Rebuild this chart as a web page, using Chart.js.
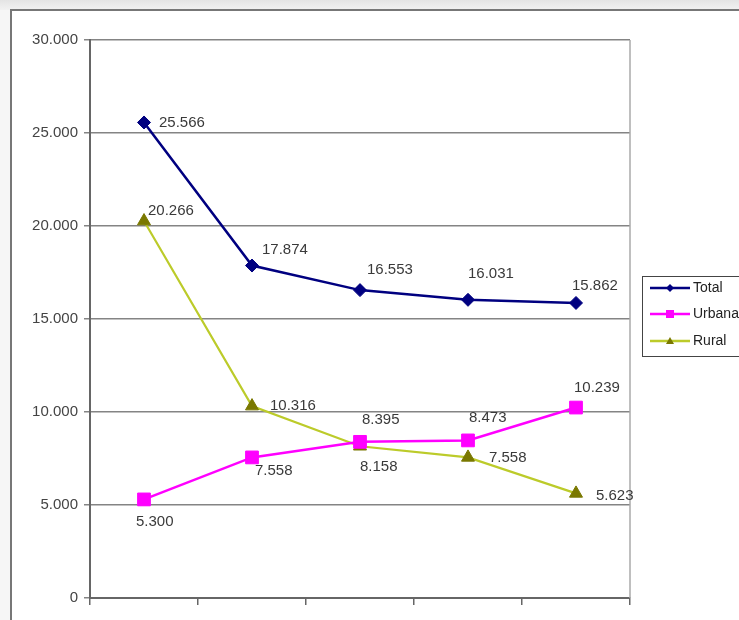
<!DOCTYPE html>
<html>
<head>
<meta charset="utf-8">
<script src="https://cdn.jsdelivr.net/npm/chart.js@4/dist/chart.umd.min.js"></script>
<style>
  html, body { margin: 0; overflow: hidden; background: #f4f4f4; }
  #chart { display: block; }
</style>
</head>
<body>
<canvas id="chart" width="739" height="620"></canvas>
<script>
// periods (no labels shown on the axis)
var categories = ['1', '2', '3', '4', '5'];
var total  = [25566, 17874, 16553, 16031, 15862];
var urbana = [5300, 7558, 8395, 8473, 10239];
var rural  = [20266, 10316, 8158, 7558, 5623];
var yTicks = [0, 5000, 10000, 15000, 20000, 25000, 30000];

function fmt(n) {
    return String(n).replace(/\B(?=(\d{3})+(?!\d))/g, '.');
}

// where each value label sits relative to its point [dx, dy]
var labelOffsets = [
    [[15, 0], [10, -16], [7, -20], [0, -26], [-4, -17]],
    [[-8, 22], [3, 13], [2, -22], [1, -23], [-2, -20]],
    [[4, -10], [18, 0], [0, 21], [21, 0], [20, 2]]
];

var extras = {
    id: 'extras',
    beforeDraw: function (chart) {
        // page shade + sheet frame (top and left edges only)
        var c = chart.ctx, w = chart.width, h = chart.height;
        c.save();
        var g = c.createLinearGradient(0, 0, 0, 10);
        g.addColorStop(0, '#e4e4e4');
        g.addColorStop(1, '#f2f2f2');
        c.fillStyle = g;
        c.fillRect(0, 0, w, 10);
        c.fillStyle = '#f6f6f6';
        c.fillRect(0, 10, 10, h);
        c.fillStyle = '#fff';
        c.fillRect(11, 10, w, h);
        c.strokeStyle = '#777';
        c.lineWidth = 2;
        c.beginPath();
        c.moveTo(11, h);
        c.lineTo(11, 10);
        c.lineTo(w, 10);
        c.stroke();
        c.restore();
    },
    beforeDatasetsDraw: function (chart) {
        var a = chart.chartArea, c = chart.ctx;
        c.save();
        c.strokeStyle = '#aaa';
        c.lineWidth = 1.5;
        c.beginPath();
        c.moveTo(a.right, a.top);
        c.lineTo(a.right, a.bottom);
        c.stroke();
        c.restore();
    },
    afterDatasetsDraw: function (chart) {
        var c = chart.ctx;
        c.save();
        c.font = '15px "Liberation Sans", Arial, sans-serif';
        c.fillStyle = '#3a3a3a';
        c.textAlign = 'left';
        c.textBaseline = 'middle';
        chart.data.datasets.forEach(function (ds, di) {
            chart.getDatasetMeta(di).data.forEach(function (pt, i) {
                var off = labelOffsets[di][i];
                c.fillText(fmt(ds.data[i]), pt.x + off[0], pt.y + off[1]);
            });
        });
        c.restore();
    },
    afterDraw: function (chart) {
        var c = chart.ctx, a = chart.chartArea;
        var bx = a.right + 12, by = 276;
        c.save();
        c.strokeStyle = '#444';
        c.lineWidth = 1;
        c.strokeRect(bx + 0.5, by + 0.5, 130, 80);
        c.font = '14px "Liberation Sans", Arial, sans-serif';
        c.textBaseline = 'middle';
        var rows = [12, 38, 65];
        chart.data.datasets.forEach(function (ds, di) {
            var y = by + rows[di];
            var x0 = bx + 8, x1 = bx + 48, mx = bx + 28;
            c.strokeStyle = ds.borderColor;
            c.lineWidth = 2.5;
            c.beginPath();
            c.moveTo(x0, y);
            c.lineTo(x1, y);
            c.stroke();
            c.fillStyle = ds.pointBackgroundColor;
            c.beginPath();
            if (ds.pointStyle === 'rectRot') {
                c.moveTo(mx - 4, y); c.lineTo(mx, y - 4); c.lineTo(mx + 4, y); c.lineTo(mx, y + 4);
            } else if (ds.pointStyle === 'rect') {
                c.rect(mx - 4, y - 4, 8, 8);
            } else {
                c.moveTo(mx - 4, y + 3); c.lineTo(mx, y - 4); c.lineTo(mx + 4, y + 3);
            }
            c.closePath();
            c.fill();
            c.fillStyle = '#222';
            c.fillText(ds.label, x1 + 3, y);
        });
        c.restore();
    }
};

new Chart(document.getElementById('chart'), {
    type: 'line',
    data: {
        labels: categories,
        datasets: [
            {
                label: 'Total',
                data: total,
                borderColor: '#000080',
                borderWidth: 2.5,
                pointStyle: 'rectRot',
                pointRadius: 6.5,
                pointBackgroundColor: '#000080',
                pointBorderColor: '#000080',
                pointBorderWidth: 1
            },
            {
                label: 'Urbana',
                data: urbana,
                borderColor: '#ff00ff',
                borderWidth: 2.5,
                pointStyle: 'rect',
                pointRadius: 9,
                pointBackgroundColor: '#ff00ff',
                pointBorderColor: '#ff00ff',
                pointBorderWidth: 1
            },
            {
                label: 'Rural',
                data: rural,
                borderColor: '#bccb2a',
                borderWidth: 2.2,
                pointStyle: 'triangle',
                pointRadius: 7.5,
                pointBackgroundColor: '#7a7800',
                pointBorderColor: '#7a7800',
                pointBorderWidth: 1
            }
        ]
    },
    options: {
        responsive: false,
        animation: false,
        layout: { padding: { left: 10, top: 40, right: 109, bottom: 0 } },
        plugins: {
            legend: { display: false },
            tooltip: { enabled: false }
        },
        scales: {
            x: {
                offset: true,
                ticks: { display: false },
                grid: { offset: true, drawOnChartArea: false, drawTicks: true, tickLength: 7, color: '#666', lineWidth: 1.5 },
                border: { color: '#666', width: 2 },
                afterFit: function (s) { s.height = 22; }
            },
            y: {
                min: 0,
                max: 30000,
                afterBuildTicks: function (s) {
                    s.ticks = yTicks.map(function (v) { return { value: v }; });
                },
                ticks: {
                    padding: 6,
                    color: '#444',
                    font: { family: '"Liberation Sans", Arial, sans-serif', size: 15 },
                    callback: function (v) { return fmt(v); }
                },
                grid: { color: '#848484', lineWidth: 1.5, tickLength: 6 },
                border: { color: '#666', width: 2 },
                afterFit: function (s) { s.width = 80; }
            }
        }
    },
    plugins: [extras]
});
</script>
</body>
</html>
